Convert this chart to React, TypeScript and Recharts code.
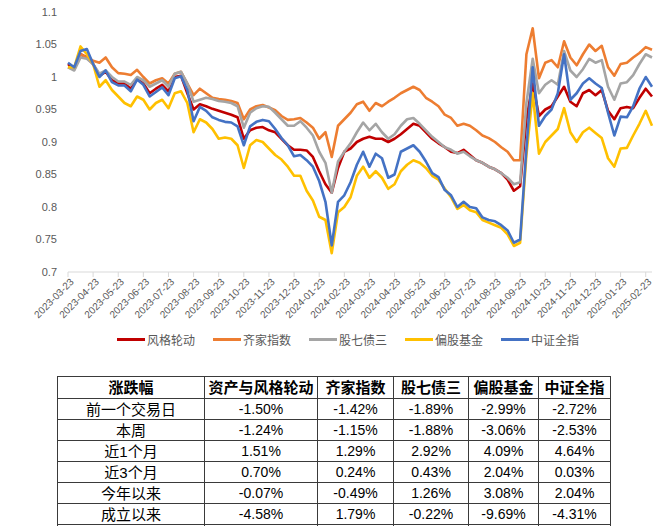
import React from "react";
import { LineChart, Line, XAxis, YAxis } from "recharts";

// month tick labels (one per month, 23rd)
const monthLabels = [
  "2023-03-23", "2023-04-23", "2023-05-23", "2023-06-23", "2023-07-23", "2023-08-23",
  "2023-09-23", "2023-10-23", "2023-11-23", "2023-12-23", "2024-01-23", "2024-02-23",
  "2024-03-23", "2024-04-23", "2024-05-23", "2024-06-23", "2024-07-23", "2024-08-23",
  "2024-09-23", "2024-10-23", "2024-11-23", "2024-12-23", "2025-01-23", "2025-02-23",
];

// net values, roughly weekly (4 points per month)
const fengge = [
  1.020, 1.012, 1.035, 1.030, 1.020, 1.002, 1.008, 0.995, 0.990, 0.990,
  0.982, 0.997, 0.990, 0.975, 0.982, 0.988, 0.978, 1.000, 1.002, 0.975,
  0.950, 0.958, 0.955, 0.951, 0.948, 0.945, 0.942, 0.938, 0.905, 0.918,
  0.922, 0.923, 0.918, 0.915, 0.905, 0.895, 0.888, 0.888, 0.887, 0.877,
  0.855, 0.835, 0.822, 0.860, 0.885, 0.890, 0.900, 0.905, 0.908, 0.905,
  0.905, 0.900, 0.905, 0.912, 0.920, 0.928, 0.925, 0.915, 0.905, 0.898,
  0.892, 0.885, 0.883, 0.888, 0.880, 0.872, 0.868, 0.862, 0.858, 0.852,
  0.842, 0.825, 0.832, 0.935, 0.990, 0.940, 0.950, 0.955, 0.970, 0.985,
  0.962, 0.955, 0.975, 0.980, 0.972, 0.980, 0.948, 0.935, 0.952, 0.954,
  0.952, 0.968, 0.982, 0.970,
];
const qijia = [
  1.015, 1.012, 1.035, 1.030, 1.025, 1.022, 1.030, 1.015, 1.006, 1.005,
  1.003, 1.011, 1.000, 0.990, 0.995, 0.998, 0.990, 1.005, 1.008, 0.990,
  0.972, 0.982, 0.975, 0.968, 0.966, 0.965, 0.963, 0.960, 0.935, 0.950,
  0.955, 0.957, 0.953, 0.949, 0.940, 0.934, 0.935, 0.937, 0.930, 0.922,
  0.905, 0.915, 0.877, 0.925, 0.935, 0.945, 0.958, 0.962, 0.948, 0.960,
  0.955, 0.962, 0.968, 0.975, 0.980, 0.985, 0.980, 0.968, 0.962, 0.955,
  0.942, 0.937, 0.925, 0.928, 0.925, 0.918, 0.910, 0.906, 0.900, 0.892,
  0.885, 0.872, 0.872, 1.035, 1.075, 0.998, 1.022, 1.026, 1.015, 1.055,
  1.030, 1.018, 1.035, 1.050, 1.040, 1.048, 1.015, 1.002, 1.020, 1.022,
  1.030, 1.037, 1.046, 1.042,
];
const guqi = [
  1.015, 1.010, 1.030, 1.028, 1.020, 1.005, 1.010, 1.000, 0.993, 0.993,
  0.988, 1.000, 0.995, 0.985, 0.990, 0.995, 0.985, 1.005, 1.008, 0.990,
  0.962, 0.965, 0.968, 0.966, 0.963, 0.962, 0.960, 0.955, 0.922, 0.945,
  0.952, 0.955, 0.954, 0.945, 0.935, 0.925, 0.925, 0.932, 0.922, 0.910,
  0.885, 0.868, 0.822, 0.870, 0.885, 0.898, 0.915, 0.930, 0.918, 0.928,
  0.915, 0.905, 0.912, 0.925, 0.935, 0.937, 0.928, 0.918, 0.908, 0.900,
  0.892, 0.888, 0.882, 0.885, 0.878, 0.872, 0.868, 0.862, 0.858, 0.852,
  0.845, 0.835, 0.838, 0.960, 1.028, 0.975, 0.988, 0.995, 0.988, 1.040,
  1.010, 1.000, 1.012, 1.028, 1.022, 1.026, 0.985, 0.965, 0.990, 0.992,
  1.003, 1.020, 1.035, 1.030,
];
const piangu = [
  1.015, 1.015, 1.047, 1.035, 1.020, 0.985, 0.995, 0.980, 0.970, 0.960,
  0.955, 0.970, 0.965, 0.950, 0.960, 0.965, 0.952, 0.975, 0.978, 0.960,
  0.915, 0.935, 0.930, 0.920, 0.905, 0.907, 0.905, 0.895, 0.860, 0.895,
  0.903, 0.900, 0.890, 0.880, 0.873, 0.862, 0.848, 0.848, 0.825, 0.810,
  0.785, 0.780, 0.729, 0.792, 0.800, 0.815, 0.848, 0.862, 0.845, 0.855,
  0.845, 0.828, 0.835, 0.855, 0.865, 0.872, 0.868, 0.860, 0.848, 0.842,
  0.828, 0.815, 0.797, 0.803, 0.795, 0.792, 0.780, 0.776, 0.772, 0.768,
  0.758, 0.740, 0.745, 0.880, 0.975, 0.882, 0.900, 0.910, 0.920, 0.952,
  0.915, 0.900, 0.915, 0.922, 0.914, 0.906, 0.875, 0.862, 0.890, 0.891,
  0.910, 0.928, 0.948, 0.925,
];
const zhongzheng = [
  1.022, 1.015, 1.040, 1.043, 1.020, 1.000, 1.010, 0.992, 0.987, 0.987,
  0.978, 0.996, 0.988, 0.970, 0.977, 0.984, 0.972, 0.998, 1.001, 0.980,
  0.932, 0.954, 0.948, 0.938, 0.934, 0.931, 0.930, 0.924, 0.895, 0.924,
  0.931, 0.934, 0.932, 0.920, 0.906, 0.895, 0.878, 0.880, 0.872, 0.862,
  0.840, 0.808, 0.741, 0.808, 0.818, 0.838, 0.865, 0.885, 0.862, 0.882,
  0.875, 0.845, 0.850, 0.885, 0.890, 0.895, 0.885, 0.870, 0.852, 0.846,
  0.826, 0.818, 0.800, 0.808, 0.800, 0.798, 0.784, 0.780, 0.778, 0.772,
  0.764, 0.745, 0.750, 0.890, 1.015, 0.925, 0.940, 0.950, 0.975, 1.035,
  0.965, 0.975, 0.990, 0.998, 0.990, 0.983, 0.945, 0.910, 0.939, 0.938,
  0.955, 0.982, 1.000, 0.985,
];

const yTicks = [0.7, 0.75, 0.8, 0.85, 0.9, 0.95, 1, 1.05, 1.1];

const series = [
  { key: "fengge", name: "风格轮动", color: "#C00000" },
  { key: "qijia", name: "齐家指数", color: "#ED7D31" },
  { key: "guqi", name: "股七债三", color: "#A5A5A5" },
  { key: "piangu", name: "偏股基金", color: "#FFC000" },
  { key: "zhongzheng", name: "中证全指", color: "#4472C4" },
];

// table
const tableHeaders = ["涨跌幅", "资产与风格轮动", "齐家指数", "股七债三", "偏股基金", "中证全指"];
const periods = ["前一个交易日", "本周", "近1个月", "近3个月", "今年以来", "成立以来"];
const retFengge = ["-1.50%", "-1.24%", "1.51%", "0.70%", "-0.07%", "-4.58%"];
const retQijia = ["-1.42%", "-1.15%", "1.29%", "0.24%", "-0.49%", "1.79%"];
const retGuqi = ["-1.89%", "-1.88%", "2.92%", "0.43%", "1.26%", "-0.22%"];
const retPiangu = ["-2.99%", "-3.06%", "4.09%", "2.04%", "3.08%", "-9.69%"];
const retZhongzheng = ["-2.72%", "-2.53%", "4.64%", "0.03%", "2.04%", "-4.31%"];

const chartData = fengge.map((v, i) => ({
  m: i / 4,
  fengge: v,
  qijia: qijia[i],
  guqi: guqi[i],
  piangu: piangu[i],
  zhongzheng: zhongzheng[i],
}));

const FONT = '"Liberation Sans", "Noto Sans CJK SC", sans-serif';

function DateTick({ x, y, payload }: any) {
  return (
    <g transform={`translate(${x + 4},${y + 1})`}>
      <text
        x={0}
        y={0}
        dy="0.35em"
        textAnchor="end"
        transform="rotate(-45)"
        fontSize={10}
        fill="#595959"
        fontFamily={FONT}
      >
        {monthLabels[payload.value]}
      </text>
    </g>
  );
}

const colWidths = [147, 113, 76, 75, 70, 72];
const cellBorder = "1px solid #3a3a3a";
const cellBase = { border: cellBorder, padding: 0, textAlign: "center" as const, lineHeight: "19px" };

export default function App() {
  const cols = [retFengge, retQijia, retGuqi, retPiangu, retZhongzheng];
  return (
    <div
      style={{
        position: "absolute",
        left: 0,
        top: 0,
        width: 662,
        height: 526,
        background: "#fff",
        overflow: "hidden",
        fontFamily: FONT,
      }}
    >
      <LineChart
        width={662}
        height={330}
        data={chartData}
        margin={{ top: 12, right: 10, bottom: 8, left: 0 }}
      >
        <XAxis
          dataKey="m"
          type="number"
          domain={[0, 23.25]}
          ticks={monthLabels.map((_, i) => i)}
          interval={0}
          height={50}
          stroke="#D9D9D9"
          tickSize={5}
          tick={<DateTick />}
        />
        <YAxis
          type="number"
          domain={[0.7, 1.1]}
          ticks={yTicks}
          width={68}
          axisLine={false}
          tickLine={false}
          tickMargin={5}
          tick={{ fill: "#595959", fontSize: 11, fontFamily: FONT }}
        />
        {series.map((s) => (
          <Line
            key={s.key}
            dataKey={s.key}
            name={s.name}
            stroke={s.color}
            strokeWidth={2.6}
            strokeLinejoin="round"
            dot={false}
            type="linear"
            isAnimationActive={false}
          />
        ))}
      </LineChart>

      <div
        style={{
          position: "absolute",
          top: 330,
          left: 117,
          height: 18,
          display: "flex",
          alignItems: "center",
          fontSize: 12,
          color: "#595959",
        }}
      >
        {series.map((s) => (
          <div key={s.key} style={{ display: "flex", alignItems: "center", marginRight: 18 }}>
            <span style={{ display: "inline-block", width: 28, height: 3, background: s.color, marginRight: 2 }} />
            <span>{s.name}</span>
          </div>
        ))}
      </div>

      <table
        style={{
          position: "absolute",
          top: 376,
          left: 57,
          borderCollapse: "collapse",
          tableLayout: "fixed",
          width: colWidths.reduce((a, b) => a + b, 0),
          color: "#000",
        }}
      >
        <colgroup>
          {colWidths.map((w, i) => (
            <col key={i} style={{ width: w }} />
          ))}
        </colgroup>
        <thead>
          <tr style={{ height: 22 }}>
            {tableHeaders.map((h) => (
              <th key={h} style={{ ...cellBase, fontSize: 15, fontWeight: 700 }}>
                {h}
              </th>
            ))}
          </tr>
        </thead>
        <tbody>
          {periods.map((p, r) => (
            <tr key={p} style={{ height: 21 }}>
              <td style={{ ...cellBase, fontSize: 15 }}>{p}</td>
              {cols.map((c, ci) => (
                <td key={ci} style={{ ...cellBase, fontSize: 14 }}>
                  {c[r]}
                </td>
              ))}
            </tr>
          ))}
          <tr style={{ height: 21 }}>
            {colWidths.map((_, i) => (
              <td key={i} style={{ border: cellBorder, padding: 0 }} />
            ))}
          </tr>
        </tbody>
      </table>
    </div>
  );
}
